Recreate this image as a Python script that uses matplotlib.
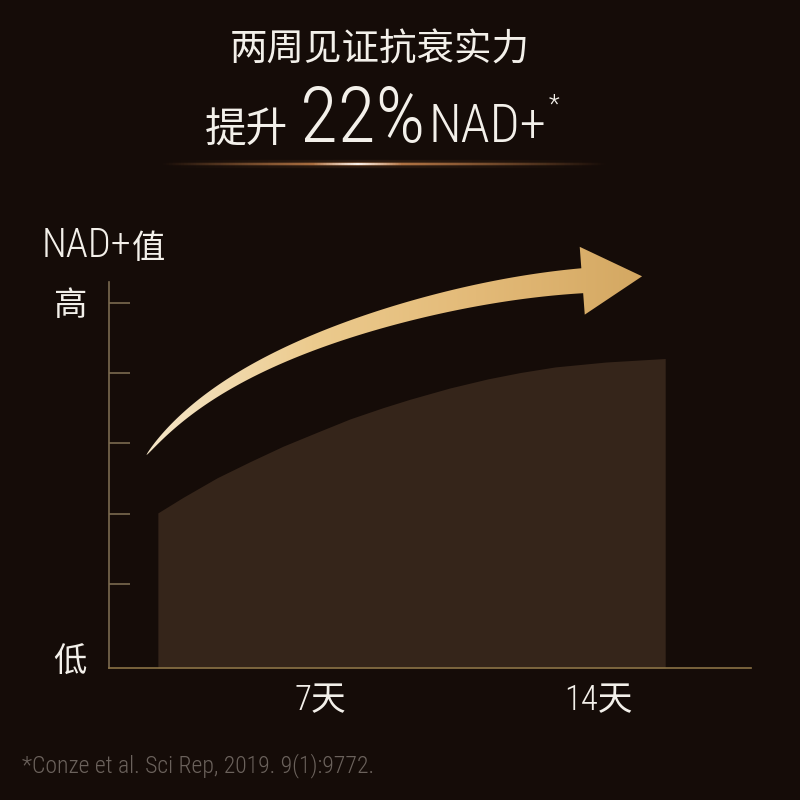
import os
import numpy as np
import matplotlib
matplotlib.use('Agg')
import matplotlib.pyplot as plt
from matplotlib import font_manager
from matplotlib.colors import LinearSegmentedColormap, to_rgb
from matplotlib.patches import Polygon
from matplotlib.collections import LineCollection

### data
days = [2.92, 3.55, 4.41, 5.24, 6.07, 6.93, 7.76, 8.59, 9.27, 10.27, 11.23, 12.04, 12.92, 14.20, 15.69]
nad_level = [2.01, 2.23, 2.51, 2.74, 2.96, 3.16, 3.35, 3.51, 3.63, 3.79, 3.92, 4.01, 4.09, 4.16, 4.21]
level_ticks = [1, 2, 3, 4, 5]
day_ticks = [7, 14]
day_labels = ['7天', '14天']
# trend arrow centre line
arrow_days = [2.64, 3.30, 4.16, 4.99, 5.82, 6.67, 7.50, 8.34, 9.02, 11.06, 13.60]
arrow_level = [2.83, 3.26, 3.64, 3.94, 4.19, 4.38, 4.57, 4.74, 4.87, 5.11, 5.32]

title = '两周见证抗衰实力'
headline = ['提升', '22%', 'NAD+', '*']
ylabel = ['NAD+', '值']
high_label = '高'
low_label = '低'
source = '*Conze et al. Sci Rep, 2019. 9(1):9772.'

### colours
bg = '#150c08'
fill_c = '#35251a'
axis_c = '#7a6a50'
white = '#f3f0ea'
note_c = '#6b625c'

### pick a narrow latin face if one is installed
prefer = ['LiberationSansNarrow-Regular', 'NotoSans-CondensedLight', 'NotoSans-Condensed',
          'RobotoCondensed-Light', 'RobotoCondensed-Regular', 'OpenSans_Condensed-Light',
          'OpenSans-CondensedLight', 'DejaVuSansCondensed.']
narrow = None
fonts = font_manager.fontManager.ttflist
for p in prefer:
    for f in fonts:
        if os.path.basename(f.fname).startswith(p):
            narrow = f
            break
    if narrow:
        break
if narrow:
    lat = dict(family=narrow.name, weight=narrow.weight, stretch=narrow.stretch)
else:
    lat = dict(family='Roboto', weight='light', stretch='normal')
cjk = 'Noto Sans CJK SC'


def lat_font(extra_cjk=False):
    fam = [lat['family'], cjk] if extra_cjk else [lat['family']]
    return dict(family=fam, weight=lat['weight'], stretch=lat['stretch'])


fig = plt.figure(figsize=(8, 8), dpi=100, facecolor=bg)

### main chart
ax = fig.add_axes([109 / 800, 132 / 800, 642 / 800, 386 / 800])
ax.set_facecolor('none')
ax.set_xlim(1.69, 17.85)
ax.set_ylim(-0.2, 5.3)
ax.fill_between(days, -0.2, nad_level, color=fill_c, lw=0)

for side in ['top', 'right']:
    ax.spines[side].set_visible(False)
for side in ['left', 'bottom']:
    ax.spines[side].set_color(axis_c)
    ax.spines[side].set_linewidth(1.2)
ax.spines['bottom'].set_color('#8a7245')

ax.set_yticks(level_ticks)
ax.set_yticklabels([])
ax.tick_params(axis='y', direction='in', length=15, width=1.2, color=axis_c)
ax.set_xticks(day_ticks)
ax.set_xticklabels(day_labels)
ax.tick_params(axis='x', length=0, pad=11, labelsize=25, labelcolor=white)
for lbl in ax.get_xticklabels():
    lbl.set_fontproperties(font_manager.FontProperties(size=25, **lat_font(True)))

### overlay in pixel coords (y down) for texts and decorations
ov = fig.add_axes([0, 0, 1, 1], zorder=3)
ov.axis('off')
ov.set_xlim(0, 800)
ov.set_ylim(800, 0)

# arrow polygon, built in pixels from the data centre line
pts = ax.transData.transform(np.column_stack([arrow_days, arrow_level]))
pts = ov.transData.inverted().transform(pts)
chord = np.r_[0, np.cumsum(np.hypot(*np.diff(pts, axis=0).T))]
t = chord / chord[-1]
cx = np.polyfit(t, pts[:, 0], 4)
cy = np.polyfit(t, pts[:, 1], 4)
s = np.linspace(0, 1, 300)
X, Y = np.polyval(cx, s), np.polyval(cy, s)
dX, dY = np.polyval(np.polyder(cx), s), np.polyval(np.polyder(cy), s)
nrm = np.hypot(dX, dY)
nx, ny = -dY / nrm, dX / nrm
hw = 12.5 * s ** 0.6
left = np.column_stack([X + nx * hw, Y + ny * hw])
right = np.column_stack([X - nx * hw, Y - ny * hw])
E = np.array([X[-1], Y[-1]])
u = np.array([dX[-1], dY[-1]]) / nrm[-1]
v = np.array([nx[-1], ny[-1]])
head = [E + 34 * v, E + 60 * u, E - 34 * v]
verts = np.vstack([left, head, right[::-1]])
poly = Polygon(verts, closed=True, facecolor='none', edgecolor='none')
ov.add_patch(poly)
gold = LinearSegmentedColormap.from_list('gold', ['#f5e6c8', '#eccb8e', '#e3ba78', '#d4a862'])
xmin, xmax = verts[:, 0].min(), verts[:, 0].max()
ymin, ymax = verts[:, 1].min(), verts[:, 1].max()
im = ov.imshow(np.linspace(0, 1, 256)[None, :], cmap=gold, aspect='auto',
               extent=[xmin, xmax, ymax, ymin], zorder=4)
im.set_clip_path(poly)

# glow line under the headline
gx = np.linspace(160, 607, 300)
prof = np.clip(1 - np.abs(gx - 357) / np.where(gx < 357, 197, 250), 0, 1)
orange = np.array(to_rgb('#c9834c'))
for lw, a in [(6, 0.12), (3, 0.35), (1.4, 1.0)]:
    cols = np.zeros((len(gx) - 1, 4))
    cols[:, :3] = orange
    cols[:, 3] = a * prof[:-1] ** 1.1
    segs = [[(gx[i], 164), (gx[i + 1], 164)] for i in range(len(gx) - 1)]
    ov.add_collection(LineCollection(segs, colors=cols, linewidths=lw))
core = np.abs(gx - 357) < 45
cols = np.zeros((core.sum() - 1, 4))
cols[:, :3] = 1
cols[:, 3] = (1 - np.abs(gx[core][:-1] - 357) / 45) * 0.9
segs = [[(a, 164), (b, 164)] for a, b in zip(gx[core][:-1], gx[core][1:])]
ov.add_collection(LineCollection(segs, colors=cols, linewidths=1.6))

### texts
ov.text(380, 50, title, ha='center', va='center', fontsize=27, family=[cjk],
        weight='light', color=white)

renderer = fig.canvas.get_renderer()


def chain(x, specs):
    for txt, size, fp, y, gap in specs:
        tt = ov.text(x, y, txt, fontsize=size, color=white, va='baseline', ha='left', **fp)
        x += tt.get_window_extent(renderer).width + gap


chain(205, [(headline[0], 30, dict(family=[cjk]), 142, 12),
            (headline[1], 56, lat_font(), 142, 3),
            (headline[2], 38, lat_font(), 142, 2),
            (headline[3], 18, lat_font(), 113, 0)])
chain(42, [(ylabel[0], 29, lat_font(), 257, 0),
           (ylabel[1], 24, dict(family=[cjk]), 258, 0)])

ov.text(70, 305, high_label, fontsize=24, family=[cjk], color=white, ha='center', va='center')
ov.text(70, 662, low_label, fontsize=24, family=[cjk], color=white, ha='center', va='center')
ov.text(22, 772, source, fontsize=17, color=note_c, va='baseline', **lat_font())

ov.set_xlim(0, 800)
ov.set_ylim(800, 0)

fig.savefig('out.png', dpi=100, facecolor=bg)
